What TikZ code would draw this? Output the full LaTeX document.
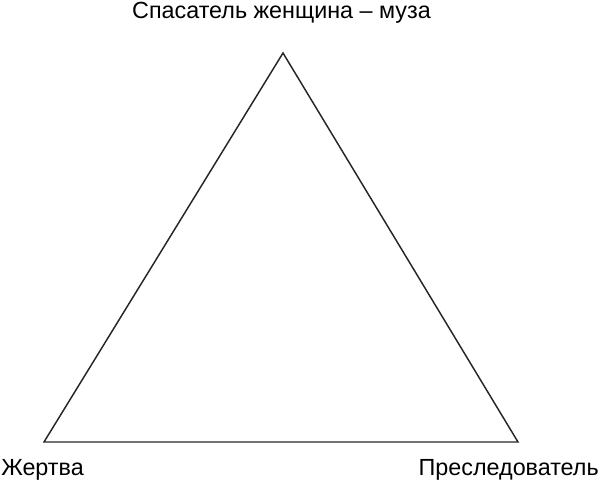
\documentclass[tikz,border=0pt]{standalone}
\usepackage{fontspec}
\setmainfont{Liberation Sans}
\begin{document}
\begin{tikzpicture}[x=0.75pt,y=-0.75pt,
  lbl/.style={inner sep=0pt,font=\fontsize{17.5}{20}\selectfont},
  edge/.style={draw=black!85,line width=1.1pt,line join=miter}]
\useasboundingbox (0,0) rectangle (600,481);
\coordinate (A) at (283,53);
\coordinate (B) at (44,442);
\coordinate (C) at (518,442);
\draw[edge] (A) -- (B) -- (C) -- cycle;
\node[lbl,anchor=base] (t) at (281.5,18.5) {Спасатель женщина – муза};
\node[lbl,anchor=base west] (l) at (1,475.5) {Жертва};
\node[lbl,anchor=base east] (r) at (599,475.5) {Преследователь};
\end{tikzpicture}
\end{document}
